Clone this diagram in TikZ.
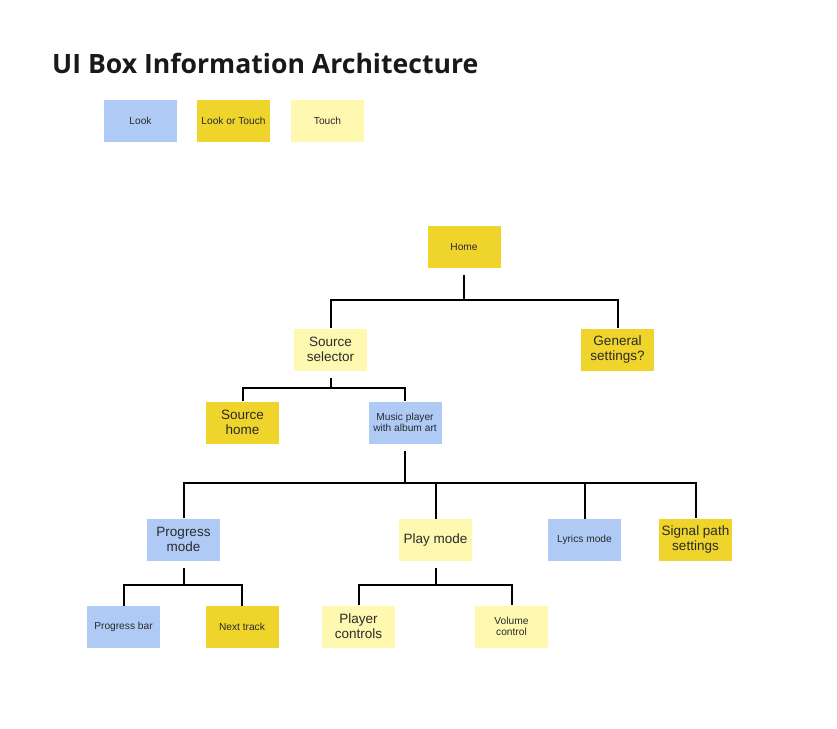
\documentclass[tikz,border=0pt]{standalone}
\usepackage{fontspec}
\setmainfont{Liberation Sans}
\newfontfamily\titlefont{Open Sans}
\definecolor{lookc}{HTML}{AFCBF5}
\definecolor{bothc}{HTML}{EFD42B}
\definecolor{touchc}{HTML}{FEF8B0}
\definecolor{txtc}{HTML}{2A2A2A}
\tikzset{
  card/.style={minimum width=73pt, minimum height=42pt, inner sep=1pt, align=center, text=txtc, draw=none},
  look/.style={card, fill=lookc},
  both/.style={card, fill=bothc},
  touchbox/.style={card, fill=touchc},
  small/.style={font=\fontsize{10.2}{11.5}\selectfont},
  big/.style={font=\fontsize{13.5}{15}\selectfont},
  conn/.style={draw=black, line width=2pt, line join=miter}
}
\begin{document}
\begin{tikzpicture}[x=1pt,y=-1pt]
\useasboundingbox[fill=white] (0,0) rectangle (837,728);
\node[anchor=base west, font=\titlefont\bfseries\fontsize{26.6}{30}\selectfont, text=black!90, inner sep=0] (title) at (52,73) {UI Box Information Architecture};
% legend
\node[look, small] (lg1) at (140.5,121) {Look};
\node[both, small] (lg2) at (233.5,121) {Look or Touch};
\node[touchbox, small] (lg3) at (327.5,121) {Touch};
% tree
\node[both, small] (home) at (464,247) {Home};
\node[touchbox, big] (src) at (330.5,349.5) {Source\\selector};
\node[both, big] (gen) at (617.5,349.5) {General\\settings?};
\node[both, big] (srch) at (242.5,422.5) {Source\\home};
\node[look, small] (music) at (405,422.5) {Music player\\with album art};
\node[look, big] (prog) at (183.5,539.5) {Progress\\mode};
\node[touchbox, big] (play) at (435.5,540) {Play mode};
\node[look, small] (lyr) at (584.5,540) {Lyrics mode};
\node[both, big] (sig) at (695.5,539.5) {Signal path\\settings};
\node[look, small] (pbar) at (123.5,627) {Progress bar};
\node[both, small] (next) at (242,627) {Next track};
\node[touchbox, big] (pctl) at (358.5,626.5) {Player\\controls};
\node[touchbox, small] (vol) at (511.5,626.5) {Volume\\control};
% junctions
\coordinate (j1) at (464,300);
\coordinate (j2) at (330.5,388);
\coordinate (j3) at (405,483);
\coordinate (j4) at (183.5,585);
\coordinate (j5) at (435.5,585);
% connectors
\draw[conn] ([yshift=-7pt]home.south) -- (j1);
\draw[conn] (src.north) |- (j1) -| (gen.north);
\draw[conn] ([yshift=-7pt]src.south) -- (j2);
\draw[conn] (srch.north) |- (j2) -| (music.north);
\draw[conn] ([yshift=-7pt]music.south) -- (j3);
\draw[conn] (prog.north) |- (j3) -| (sig.north);
\draw[conn] (play.north) -- (play.north |- j3);
\draw[conn] (lyr.north) -- (lyr.north |- j3);
\draw[conn] ([yshift=-7pt]prog.south) -- (j4);
\draw[conn] (pbar.north) |- (j4) -| (next.north);
\draw[conn] ([yshift=-7pt]play.south) -- (j5);
\draw[conn] (pctl.north) |- (j5) -| (vol.north);
\end{tikzpicture}
\end{document}
